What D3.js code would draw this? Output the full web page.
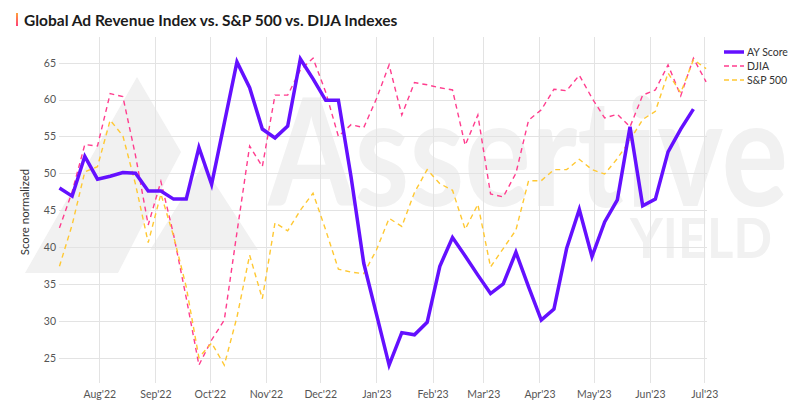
<!DOCTYPE html>
<html><head><meta charset="utf-8">
<script src="https://cdn.jsdelivr.net/npm/d3@7"></script>
<style>
html,body{margin:0;padding:0;background:#fff;}
svg{display:block;font-family:Lato,"Open Sans",sans-serif;}
</style></head>
<body>
<svg id="chart" width="800" height="412"></svg>
<script>
// ---- data ----
const weeks = ["2022-07-10","2022-07-17","2022-07-24","2022-07-31","2022-08-07","2022-08-14","2022-08-21","2022-08-28",
"2022-09-04","2022-09-11","2022-09-18","2022-09-25","2022-10-02","2022-10-09","2022-10-16","2022-10-23","2022-10-30",
"2022-11-06","2022-11-13","2022-11-20","2022-11-27","2022-12-04","2022-12-11","2022-12-18","2022-12-25",
"2023-01-01","2023-01-08","2023-01-15","2023-01-22","2023-01-29","2023-02-05","2023-02-12","2023-02-19","2023-02-26",
"2023-03-05","2023-03-12","2023-03-19","2023-03-26","2023-04-02","2023-04-09","2023-04-16","2023-04-23","2023-04-30",
"2023-05-07","2023-05-14","2023-05-21","2023-05-28","2023-06-04","2023-06-11","2023-06-18","2023-06-25","2023-07-02"];
const ayScore = [48.0,46.9,52.3,49.2,49.6,50.1,50.0,47.6,47.6,46.5,46.5,53.5,48.5,56.8,65.1,61.6,56.0,54.8,56.4,65.5,
62.8,59.9,59.9,49.5,37.8,30.9,24.0,28.4,28.1,29.8,37.4,41.3,38.8,36.2,33.7,35.0,39.3,34.6,30.1,31.6,
39.8,45.1,38.7,43.4,46.4,56.3,45.6,46.5,52.9,56.0,58.7];
const djia = [42.6,47.5,53.9,53.7,60.8,60.4,52.4,43.0,48.9,41.7,33.1,24.0,27.4,30.1,42.0,53.7,50.9,60.6,60.6,64.0,
65.6,61.0,55.0,56.6,56.2,60.1,64.7,57.9,62.3,62.0,61.6,61.3,53.8,57.9,47.2,46.8,50.0,57.2,58.6,61.4,
61.2,63.3,60.2,57.5,58.0,56.3,60.6,61.3,64.7,60.5,65.6,62.4];
const sp500 = [37.4,43.0,50.2,50.9,57.2,55.1,48.5,40.6,47.2,41.5,34.6,25.0,27.0,24.0,30.5,38.9,33.0,43.3,42.2,45.0,
47.3,42.3,37.0,36.6,36.4,39.6,43.9,42.8,47.4,50.5,48.6,47.7,42.4,45.8,37.3,39.8,42.3,49.0,49.0,50.5,
50.5,51.9,50.5,49.9,52.0,54.5,57.3,58.4,63.6,60.9,65.4,64.2];
const yTicks = [25,30,35,40,45,50,55,60,65];
const monthTicks = ["2022-08-01","2022-09-01","2022-10-01","2022-11-01","2022-12-01","2023-01-01",
"2023-02-01","2023-03-01","2023-04-01","2023-05-01","2023-06-01","2023-07-01"];
const seriesNames = ["AY Score","DJIA","S&P 500"];

// ---- setup ----
const svg = d3.select("#chart");
const parse = d3.utcParse("%Y-%m-%d");
const fmt = d3.utcFormat("%b'%y");
const plot = {left:59, right:707, top:37, bottom:383};

const x = d3.scaleUtc()
  .domain([new Date(Date.UTC(2022,6,9,18)), new Date(Date.UTC(2023,6,2,12))])
  .range([plot.left, plot.right]);
const y = d3.scaleLinear().domain([21.57, 68.48]).range([plot.bottom, plot.top]);

// ---- watermark ----
const wm = svg.append("g").attr("fill","#f1f1f1");
wm.append("polygon").attr("points","25,273 137,77 181,152 140,230 118,273");
wm.append("polygon").attr("points","150,250 203,165 258,250");
wm.append("text").attr("x",268).attr("y",206).attr("font-size",150).attr("font-weight",700)
  .attr("textLength",520).attr("lengthAdjust","spacingAndGlyphs").text("Assertive");
wm.append("text").attr("x",630).attr("y",258).attr("font-size",56).attr("font-weight",700)
  .attr("textLength",142).attr("lengthAdjust","spacingAndGlyphs").text("YIELD");

// ---- grid ----
const grid = svg.append("g").attr("stroke","#e3e3e3").attr("stroke-width",1);
grid.selectAll("line.h").data(yTicks).join("line")
  .attr("x1",plot.left).attr("x2",plot.right)
  .attr("y1",d=>Math.round(y(d))+0.5).attr("y2",d=>Math.round(y(d))+0.5);
grid.selectAll("line.v").data(monthTicks.map(parse)).join("line")
  .attr("x1",d=>Math.round(x(d))+0.5).attr("x2",d=>Math.round(x(d))+0.5)
  .attr("y1",plot.top).attr("y2",plot.bottom);

// ---- axes labels ----
const yAxis = svg.append("g").attr("transform",`translate(${plot.left-3},0)`)
  .call(d3.axisLeft(y).tickValues(yTicks).tickSize(0).tickPadding(0));
yAxis.select(".domain").remove();
yAxis.selectAll("text").attr("font-size",10.5).attr("fill","#555").attr("font-family","Lato");

const xAxis = svg.append("g").attr("transform",`translate(0,${plot.bottom})`)
  .call(d3.axisBottom(x).tickValues(monthTicks.map(parse)).tickFormat(fmt).tickSize(0).tickPadding(8));
xAxis.select(".domain").remove();
xAxis.selectAll("text").attr("font-size",10.5).attr("fill","#555").attr("font-family","Lato");

svg.append("text").attr("transform","translate(29,212) rotate(-90)")
  .attr("text-anchor","middle").attr("font-size",11.5).attr("fill","#333").text("Score normalized");

// ---- lines ----
const line = d3.line().x((d,i)=>x(parse(weeks[i]))).y(d=>y(d));
svg.append("path").datum(djia).attr("d",line).attr("fill","none")
  .attr("stroke","#ff3d8e").attr("stroke-width",1.4).attr("stroke-dasharray","5,4");
svg.append("path").datum(sp500).attr("d",line).attr("fill","none")
  .attr("stroke","#ffc832").attr("stroke-width",1.4).attr("stroke-dasharray","5,4");
svg.append("path").datum(ayScore).attr("d",line).attr("fill","none")
  .attr("stroke","#6410ff").attr("stroke-width",3.5).attr("stroke-linejoin","miter");

// ---- title ----
const grad = svg.append("defs").append("linearGradient").attr("id","acc")
  .attr("x1",0).attr("y1",0).attr("x2",0).attr("y2",1);
grad.append("stop").attr("offset","0%").attr("stop-color","#ffa238");
grad.append("stop").attr("offset","100%").attr("stop-color","#ff3d7a");
svg.append("rect").attr("x",16).attr("y",13).attr("width",2).attr("height",13).attr("fill","url(#acc)");
svg.append("text").attr("x",24).attr("y",25.5).attr("font-size",15.5).attr("font-weight",700)
  .attr("fill","#1b1b1b").text("Global Ad Revenue Index vs. S&P 500 vs. DIJA Indexes");

// ---- legend ----
const legStyles = [
  {c:"#6410ff", w:3.5, dash:null},
  {c:"#ff3d8e", w:1.4, dash:"5,3"},
  {c:"#ffc832", w:1.4, dash:"5,3"}
];
const leg = svg.append("g");
seriesNames.forEach((n,i)=>{
  const yy = 52 + i*14;
  leg.append("line").attr("x1",724).attr("x2",744).attr("y1",yy).attr("y2",yy)
    .attr("stroke",legStyles[i].c).attr("stroke-width",legStyles[i].w)
    .attr("stroke-dasharray",legStyles[i].dash);
  leg.append("text").attr("x",747).attr("y",yy+3.8).attr("font-size",10.5).attr("fill","#333").text(n);
});
</script>
</body></html>
